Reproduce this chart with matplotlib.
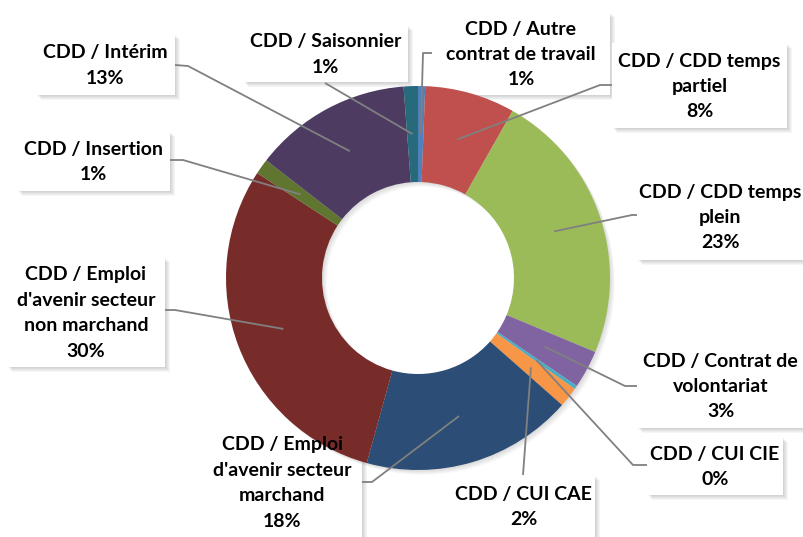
import matplotlib
matplotlib.use("Agg")
import matplotlib.pyplot as plt
from matplotlib.patches import Rectangle, Wedge
import numpy as np

# Donut data: contract types (order = clockwise from 12 o'clock)
categories = [
    "CDD / Autre\ncontrat de travail",
    "CDD / CDD temps\npartiel",
    "CDD / CDD temps\nplein",
    "CDD / Contrat de\nvolontariat",
    "CDD / CUI CIE",
    "CDD / CUI CAE",
    "CDD / Emploi\nd'avenir secteur\nmarchand",
    "CDD / Emploi\nd'avenir secteur\nnon marchand",
    "CDD / Insertion",
    "CDD / Intérim",
    "CDD / Saisonnier",
]
shares = [0.6, 7.6, 23.1, 3.2, 0.3, 1.7, 17.8, 29.9, 1.3, 13.3, 1.2]
colors = ["#4F81BD", "#C0504D", "#9BBB59", "#8064A2", "#4BACC6", "#F79646",
          "#2C4D75", "#772C2A", "#5F7530", "#4D3B62", "#276A7C"]

# label boxes in image pixels (x0, y0, x1, y1), elbow and attach points of leader lines
boxes = [(432, 12, 610, 95), (612, 43, 787, 128), (637, 173, 810, 260),
         (637, 343, 810, 428), (647, 437, 783, 495), (452, 475, 595, 540),
         (203, 427, 362, 540), (7, 257, 165, 367), (17, 131, 170, 191),
         (36, 34, 175, 95), (243, 25, 408, 82)]
elbows = [(423, 53), (600, 85), (632, 215), (625, 386), (633, 465), (523, 475),
          (372, 482), (175, 310), (183, 160), (188, 66), (325, 83)]
attach = [(432, 53), (612, 85), (637, 215), (637, 386), (647, 465), (523, 475),
          (362, 482), (165, 310), (170, 160), (175, 65), (325, 83)]

W, H = 804, 537
cx, cy, R, ring = 418, 278, 192, 96

plt.rcParams['font.family'] = ['Lato', 'DejaVu Sans']

fig = plt.figure(figsize=(W / 100, H / 100), dpi=100)
ax = fig.add_axes([0, 0, 1, 1])

# boxes sit under the donut (as in the original)
for (x0, y0, x1, y1) in boxes:
    for d in range(1, 6):
        ax.add_patch(Rectangle((x0 + d, y0 + d), x1 - x0, y1 - y0, facecolor="black",
                               edgecolor="none", alpha=0.035, zorder=0))
    ax.add_patch(Rectangle((x0, y0), x1 - x0, y1 - y0, facecolor="white",
                           edgecolor="none", zorder=1))

# soft shadow of the ring
for d in range(1, 7):
    ax.add_patch(Wedge((cx + d * 0.8, cy + d * 0.8), R, 0, 360, width=ring,
                       facecolor="black", edgecolor="none", alpha=0.025, zorder=1.5))

# y axis is inverted, so counterclock in data = clockwise on screen
wedges, _ = ax.pie(shares, colors=colors, center=(cx, cy), radius=R,
                   startangle=-90, counterclock=True,
                   wedgeprops=dict(width=ring, edgecolor="none"))
for w in wedges:
    w.set_zorder(2)

total = sum(shares)
for i, w in enumerate(wedges):
    mid = np.deg2rad((w.theta1 + w.theta2) / 2)
    px = cx + (R - ring / 2) * np.cos(mid)
    py = cy + (R - ring / 2) * np.sin(mid)
    ex, ey = elbows[i]
    tx, ty = attach[i]
    ax.plot([px, ex, tx], [py, ey, ty], color="#808080", lw=1.3, zorder=3,
            solid_capstyle="butt")
    x0, y0, x1, y1 = boxes[i]
    x1 = min(x1, W)
    y1 = min(y1, H)
    pct = f"{round(shares[i] / total * 100)}%"
    ax.text((x0 + x1) / 2, (y0 + y1) / 2 + 1, categories[i] + "\n" + pct,
            ha="center", va="center", fontsize=14, fontweight="bold",
            linespacing=1.6, color="black", zorder=4)

ax.set_xlim(0, W)
ax.set_ylim(H, 0)
ax.set_aspect("auto")
ax.axis("off")

fig.savefig("out.png", dpi=100)
